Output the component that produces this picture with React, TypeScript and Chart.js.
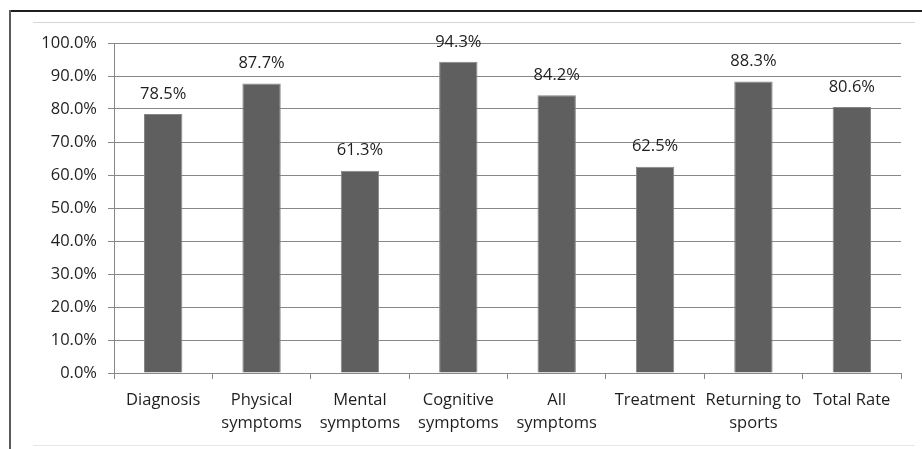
import React, { useEffect, useRef } from "react";
import { Chart, registerables } from "chart.js";

Chart.register(...registerables);

const categories: (string | string[])[] = [
  "Diagnosis",
  ["Physical", "symptoms"],
  ["Mental", "symptoms"],
  ["Cognitive", "symptoms"],
  ["All", "symptoms"],
  "Treatment",
  ["Returning to", "sports"],
  "Total Rate",
];
const rates: number[] = [78.5, 87.7, 61.3, 94.3, 84.2, 62.5, 88.3, 80.6];
const yMax = 100;
const yStep = 10;

const FONT = "'Open Sans', sans-serif";
const TEXT = "#1e1e1e";
const GRID = "#888888";

const valueLabels = {
  id: "valueLabels",
  afterDatasetsDraw(chart: any) {
    const ctx = chart.ctx;
    const meta = chart.getDatasetMeta(0);
    ctx.save();
    ctx.font = `16.5px ${FONT}`;
    ctx.fillStyle = TEXT;
    ctx.textAlign = "center";
    ctx.textBaseline = "middle";
    meta.data.forEach((bar: any, i: number) => {
      ctx.fillText(rates[i].toFixed(1) + "%", bar.x, bar.y - 20);
    });
    ctx.restore();
  },
};

export default function App() {
  const ref = useRef<HTMLCanvasElement>(null);
  useEffect(() => {
    document.body.style.margin = "0";
    const chart = new Chart(ref.current!, {
      type: "bar",
      data: {
        labels: categories,
        datasets: [
          {
            data: rates,
            backgroundColor: "#5f5f5f",
            borderColor: "#858585",
            borderWidth: 1,
            categoryPercentage: 1,
            barPercentage: 0.39,
          },
        ],
      },
      options: {
        animation: false,
        responsive: false,
        devicePixelRatio: 1,
        layout: { padding: { left: 0, right: 21, top: 43, bottom: 0 } },
        plugins: { legend: { display: false }, tooltip: { enabled: false } },
        scales: {
          x: {
            grid: {
              display: true,
              drawOnChartArea: false,
              drawTicks: true,
              tickLength: 6,
              color: GRID,
              offset: true,
            },
            border: { color: GRID, width: 1 },
            ticks: {
              color: TEXT,
              font: { family: FONT, size: 16.5, lineHeight: 1.37 },
              padding: 10,
              maxRotation: 0,
              autoSkip: false,
            },
            afterFit(scale: any) {
              scale.height = 76;
            },
          },
          y: {
            min: 0,
            max: yMax,
            grid: { color: GRID, tickLength: 6, lineWidth: 1 },
            border: { color: GRID, width: 1 },
            ticks: {
              stepSize: yStep,
              color: TEXT,
              padding: 11,
              font: { family: FONT, size: 16.5 },
              callback: (v: any) => Number(v).toFixed(1) + "%",
            },
            afterFit(scale: any) {
              scale.width = 114;
            },
          },
        },
      },
      plugins: [valueLabels],
    });
    return () => chart.destroy();
  }, []);

  return (
    <div style={{ position: "relative", width: 922, height: 449, background: "#fff", overflow: "hidden" }}>
      <canvas ref={ref} width={922} height={449} style={{ position: "absolute", left: 0, top: 0 }} />
      <div style={{ position: "absolute", left: 10, top: 10, width: 912, height: 2, background: "#1e1e1e" }} />
      <div style={{ position: "absolute", left: 9, top: 10, width: 2, height: 439, background: "#5a5a5a" }} />
      <div style={{ position: "absolute", left: 33, top: 22, width: 882, height: 1, background: "#d6d6d6" }} />
      <div style={{ position: "absolute", left: 33, top: 445, width: 882, height: 1, background: "#e6e6e6" }} />
    </div>
  );
}
